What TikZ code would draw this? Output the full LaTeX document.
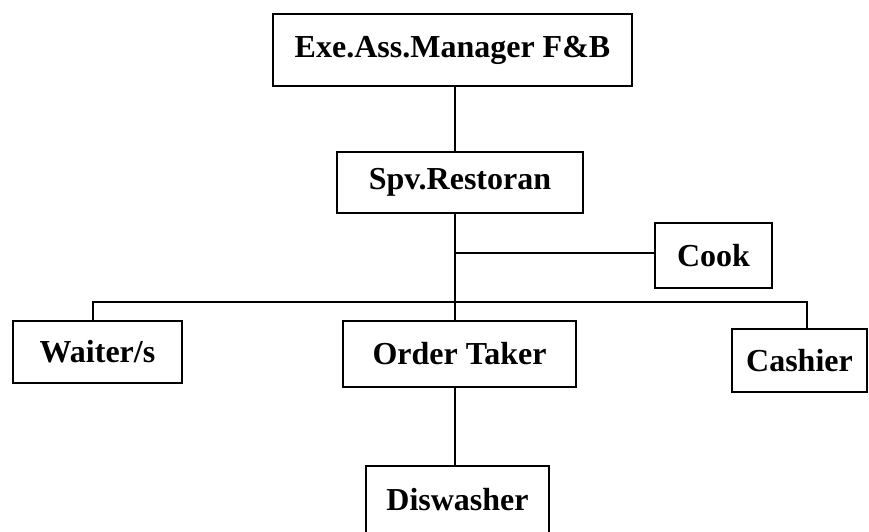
\documentclass[tikz,border=0pt]{standalone}
\usepackage{fontspec}
\setmainfont{Liberation Serif}
\usepackage{tikz}

\begin{document}
\begin{tikzpicture}[x=1pt, y=-1pt, line width=1.1pt,
    post/.style={draw, inner sep=0pt, font=\fontsize{32}{36}\selectfont\bfseries}]
            \useasboundingbox (0,0) rectangle (869,531);

            \node[post, minimum width=359pt, minimum height=72pt] (exe) at (452.5, 50) {Exe.Ass.Manager F\&B};
            \node[post, minimum width=246pt, minimum height=61pt] (spv) at (460, 182.5) {Spv.Restoran};
            \node[post, minimum width=117pt, minimum height=65pt] (cook) at (713.5, 255.5) {Cook};
            \node[post, minimum width=169pt, minimum height=62pt] (waiter) at (97.5, 352) {Waiter/s};
            \node[post, minimum width=233pt, minimum height=66pt] (taker) at (459.5, 354) {Order Taker};
            \node[post, minimum width=135pt, minimum height=63pt] (cashier) at (799.5, 360.5) {Cashier};
            \node[post, minimum width=183pt, minimum height=68pt] (dish) at (457.5, 500) {Diswasher};

            \coordinate (trunk) at (455, 0);
            \coordinate (bus) at (0, 302);
            \coordinate (side) at (0, 253);

            \draw (exe.south -| trunk) -- (spv.north -| trunk); % manager-spv
            \draw (spv.south -| trunk) -- (taker.north -| trunk); % spv-taker
            \draw (side -| trunk) -- (cook.west |- side); % spv-cook
            \draw (waiter.north -| 93,0) -- (bus -| 93,0) -- (bus -| 807,0) -- (cashier.north -| 807,0); % bus
            \draw (taker.south -| trunk) -- (dish.north -| trunk); % taker-dish
        \end{tikzpicture}
\end{document}
